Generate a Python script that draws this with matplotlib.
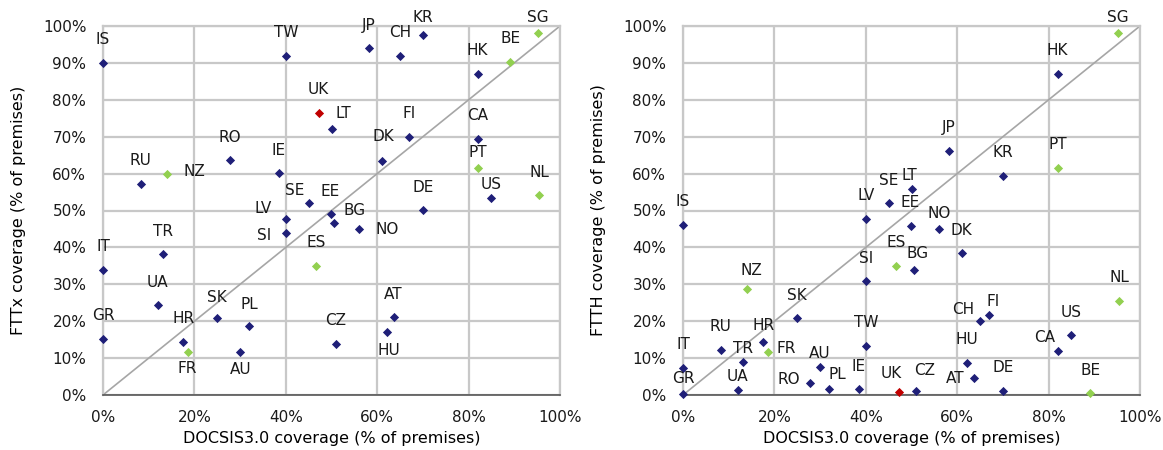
import matplotlib.pyplot as plt
from matplotlib.ticker import PercentFormatter

countries = ["IS", "TW", "UK", "LT", "RO", "IE", "RU", "NZ", "SE", "EE", "LV",
             "JP", "CH", "KR", "SG", "BE", "HK", "FI", "DK", "CA", "PT", "NL",
             "US", "DE", "BG", "NO", "AT", "HU", "CZ", "SI", "ES", "IT", "TR",
             "UA", "GR", "SK", "PL", "HR", "FR", "AU"]

# DOCSIS3.0 coverage (x, both charts)
docsis = [0, 40, 47.2, 50, 27.8, 38.5, 8.3, 14.1, 45, 49.8, 40,
          58.1, 65, 70, 95.2, 89.1, 82, 67, 61, 82, 82, 95.4,
          85, 70, 50.5, 56.1, 63.6, 62.1, 51, 40, 46.6, 0, 13.1,
          12, 0, 24.9, 32, 17.6, 18.5, 30]

# FTTx coverage (left chart)
fttx = [90, 92, 76.5, 72, 63.6, 60.1, 57.3, 60, 52, 49, 47.8,
        94, 92, 97.6, 98, 90.3, 87.1, 70, 63.3, 69.5, 61.6, 54.2,
        53.3, 50.1, 46.5, 44.9, 21.1, 17, 13.9, 43.9, 35, 34, 38.2,
        24.3, 15.3, 20.9, 18.8, 14.4, 11.7, 11.7]

# FTTH coverage (right chart)
ftth = [46.1, 13.4, 0.9, 55.7, 3.3, 1.5, 12.2, 28.7, 52, 45.9, 47.8,
        66.2, 20.1, 59.4, 98, 0.5, 87.1, 21.7, 38.4, 11.8, 61.6, 25.6,
        16.2, 1.1, 33.9, 44.9, 4.5, 8.8, 1.1, 30.8, 35, 7.4, 8.9,
        1.4, 0.2, 20.8, 1.5, 14.4, 11.7, 7.5]

green = ["SG", "BE", "NZ", "PT", "NL", "FR", "ES"]
red = ["UK"]

# label offsets in pixels (dx, dy up), default is centred above the point
left_off = {"LT": (12, 16), "NZ": (27, 2), "SE": (-14, 13), "LV": (-23, 10),
            "KR": (0, 17), "SG": (0, 16), "PT": (0, 15), "US": (0, 14),
            "BG": (21, 13), "NO": (28, 0), "HU": (2, -18), "SI": (-22, -2),
            "SK": (0, 20), "PL": (0, 21), "FR": (0, -17), "AU": (1, -18),
            "DK": (2, 25)}
right_off = {"SG": (0, 16), "LT": (-2, 14), "NO": (0, 16), "BG": (4, 16),
             "NZ": (4, 19), "FI": (4, 13), "CH": (-17, 11), "HR": (0, 16),
             "CA": (-13, 14), "TR": (0, 14), "FR": (19, 3), "AU": (0, 14),
             "RO": (-21, 3), "PL": (8, 15), "UA": (0, 13), "GR": (0, 16),
             "UK": (-7, 18), "CZ": (9, 20), "AT": (-18, 0), "EE": (0, 23)}

navy = "#1f1f78"
col_green = "#92d050"
col_red = "#c00000"

plt.rcParams["font.family"] = "DejaVu Sans"
plt.rcParams["font.size"] = 10

fig = plt.figure(figsize=(11.63, 4.5), dpi=100)
ax1 = fig.add_axes([103/1163, 55/450, 457/1163, 369/450])
ax2 = fig.add_axes([683/1163, 55/450, 457/1163, 369/450])


def draw(ax, ys, offsets, ylabel):
    ax.plot([0, 100], [0, 100], color="#a6a6a6", lw=1.2, zorder=2)
    for c, x, y in zip(countries, docsis, ys):
        if c in green:
            col = col_green
        elif c in red:
            col = col_red
        else:
            col = navy
        ax.scatter(x, y, marker="D", s=22, color=col, zorder=4, clip_on=False,
                   linewidths=0)
        dx, dy = offsets.get(c, (0, 23))
        ax.annotate(c, (x, y), xytext=(dx, dy), textcoords="offset pixels",
                    ha="center", va="center", fontsize=11, color="#1a1a1a",
                    annotation_clip=False, zorder=5)
    ax.set_xlim(0, 100)
    ax.set_ylim(0, 100)
    ax.set_xticks(range(0, 101, 20))
    ax.set_yticks(range(0, 101, 10))
    ax.xaxis.set_major_formatter(PercentFormatter(decimals=0))
    ax.yaxis.set_major_formatter(PercentFormatter(decimals=0))
    ax.grid(True, color="#c8c8c8", lw=1.6, zorder=1)
    ax.set_axisbelow(True)
    for s in ["top", "right", "left"]:
        ax.spines[s].set_color("#c8c8c8")
        ax.spines[s].set_linewidth(1.6)
    ax.spines["bottom"].set_color("#555555")
    ax.spines["bottom"].set_linewidth(1.2)
    ax.tick_params(length=0, labelsize=11, colors="#1a1a1a")
    ax.tick_params(axis="x", pad=11)
    ax.tick_params(axis="y", pad=12)
    ax.set_xlabel("DOCSIS3.0 coverage (% of premises)", fontsize=11.5)
    ax.set_ylabel(ylabel, fontsize=11.5)
    ax.xaxis.set_label_coords(0.5, -43/369)
    ax.xaxis.label.set_va("center")
    ax.yaxis.set_label_coords(-85/457, 0.5)
    ax.yaxis.label.set_va("center")


draw(ax1, fttx, left_off, "FTTx coverage (% of premises)")
draw(ax2, ftth, right_off, "FTTH coverage (% of premises)")

fig.savefig("out.png", dpi=100)
